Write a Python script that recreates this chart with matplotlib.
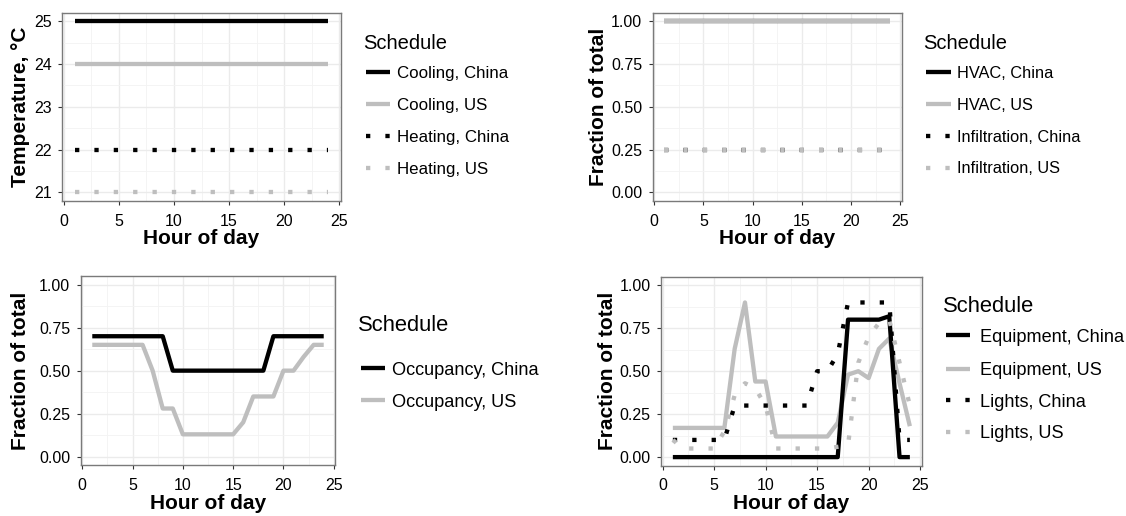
import matplotlib
matplotlib.use('Agg')
import matplotlib.pyplot as plt
from matplotlib.lines import Line2D

plt.rcParams['font.family'] = ['Liberation Sans', 'DejaVu Sans']

hours = list(range(1, 25))

# thermostat setpoints (deg C)
cooling_china = [25, 25, 25, 25, 25, 25, 25, 25, 25, 25, 25, 25,
                 25, 25, 25, 25, 25, 25, 25, 25, 25, 25, 25, 25]
cooling_us = [24, 24, 24, 24, 24, 24, 24, 24, 24, 24, 24, 24,
              24, 24, 24, 24, 24, 24, 24, 24, 24, 24, 24, 24]
heating_china = [22, 22, 22, 22, 22, 22, 22, 22, 22, 22, 22, 22,
                 22, 22, 22, 22, 22, 22, 22, 22, 22, 22, 22, 22]
heating_us = [21, 21, 21, 21, 21, 21, 21, 21, 21, 21, 21, 21,
              21, 21, 21, 21, 21, 21, 21, 21, 21, 21, 21, 21]

# hvac availability and infiltration
hvac_china = [1, 1, 1, 1, 1, 1, 1, 1, 1, 1, 1, 1,
              1, 1, 1, 1, 1, 1, 1, 1, 1, 1, 1, 1]
hvac_us = [1, 1, 1, 1, 1, 1, 1, 1, 1, 1, 1, 1,
           1, 1, 1, 1, 1, 1, 1, 1, 1, 1, 1, 1]
infil_china = [0.25, 0.25, 0.25, 0.25, 0.25, 0.25, 0.25, 0.25, 0.25, 0.25, 0.25, 0.25,
               0.25, 0.25, 0.25, 0.25, 0.25, 0.25, 0.25, 0.25, 0.25, 0.25, 0.25, 0.25]
infil_us = [0.25, 0.25, 0.25, 0.25, 0.25, 0.25, 0.25, 0.25, 0.25, 0.25, 0.25, 0.25,
            0.25, 0.25, 0.25, 0.25, 0.25, 0.25, 0.25, 0.25, 0.25, 0.25, 0.25, 0.25]

# occupancy
occ_china = [0.7, 0.7, 0.7, 0.7, 0.7, 0.7, 0.7, 0.7, 0.5, 0.5, 0.5, 0.5,
             0.5, 0.5, 0.5, 0.5, 0.5, 0.5, 0.7, 0.7, 0.7, 0.7, 0.7, 0.7]
occ_us = [0.65, 0.65, 0.65, 0.65, 0.65, 0.65, 0.5, 0.28, 0.28, 0.13, 0.13, 0.13,
          0.13, 0.13, 0.13, 0.2, 0.35, 0.35, 0.35, 0.5, 0.5, 0.58, 0.65, 0.65]

# plug loads and lighting
equip_china = [0, 0, 0, 0, 0, 0, 0, 0, 0, 0, 0, 0,
               0, 0, 0, 0, 0, 0.8, 0.8, 0.8, 0.8, 0.82, 0, 0]
equip_us = [0.17, 0.17, 0.17, 0.17, 0.17, 0.17, 0.63, 0.9, 0.44, 0.44, 0.12, 0.12,
            0.12, 0.12, 0.12, 0.12, 0.2, 0.48, 0.5, 0.46, 0.63, 0.69, 0.43, 0.18]
lights_china = [0.1, 0.1, 0.1, 0.1, 0.1, 0.1, 0.3, 0.3, 0.3, 0.3, 0.3, 0.3,
                0.3, 0.3, 0.5, 0.5, 0.6, 0.9, 0.9, 0.9, 0.9, 0.9, 0.1, 0.1]
lights_us = [0.1, 0.05, 0.05, 0.05, 0.05, 0.15, 0.36, 0.43, 0.4, 0.3, 0.05, 0.05,
             0.05, 0.05, 0.05, 0.05, 0.06, 0.07, 0.55, 0.7, 0.78, 0.8, 0.55, 0.3]

W, H = 1126, 516
LW = 3.1
GREY = '#bebebe'
DOT = (0, (1, 3.5))

fig = plt.figure(figsize=(W / 100, H / 100), dpi=100)


def px_axes(box):
    left, top, right, bottom = box
    return fig.add_axes([left / W, 1 - bottom / H, (right - left) / W, (bottom - top) / H])


def style(ax, box, ylim, yticks, yfmt, ylabel, ylabel_x, xlabel_y):
    left, top, right, bottom = box
    ax.set_xlim(-0.15, 25.15)
    ax.set_ylim(*ylim)
    ax.set_xticks([0, 5, 10, 15, 20, 25])
    ax.set_xticks([2.5, 7.5, 12.5, 17.5, 22.5], minor=True)
    ax.set_yticks(yticks)
    ax.set_yticklabels([yfmt.format(v) for v in yticks])
    step = yticks[1] - yticks[0]
    ax.set_yticks([v + step / 2 for v in yticks[:-1]], minor=True)
    ax.grid(which='major', color='#ebebeb', linewidth=1.0)
    ax.grid(which='minor', color='#f3f3f3', linewidth=0.6)
    ax.set_axisbelow(True)
    for s in ax.spines.values():
        s.set_color('#7a7a7a')
        s.set_linewidth(1.0)
    ax.tick_params(which='major', length=3, width=0.8, color='#333333',
                   labelsize=11.5, labelcolor='black')
    ax.tick_params(axis='x', pad=6.0)
    ax.tick_params(axis='y', pad=4.5)
    ax.tick_params(which='minor', length=0)
    # axis titles placed in pixel space, centred on the panel
    ax.set_xlabel('Hour of day', fontsize=15, fontweight='bold')
    ax.xaxis.set_label_coords((left + right) / 2 / W, 1 - xlabel_y / H,
                              transform=fig.transFigure)
    ax.xaxis.label.set_va('baseline')
    ax.set_ylabel(ylabel, fontsize=15, fontweight='bold')
    ax.yaxis.set_label_coords(ylabel_x / W, 1 - (top + bottom) / 2 / H,
                              transform=fig.transFigure)
    ax.yaxis.label.set_rotation_mode('anchor')
    ax.yaxis.label.set_va('baseline')
    ax.yaxis.label.set_ha('center')


def legend(x, title_y, rows, entries, size=12, title_size=14.5, text_dx=34):
    fig.text(x / W, 1 - (title_y + 0.5 * title_size) / H, 'Schedule',
             fontsize=title_size, va='baseline')
    for (label, color, ls), y in zip(entries, rows):
        fig.add_artist(Line2D([(x + 3) / W, (x + 27.3) / W], [1 - y / H] * 2,
                              color=color, linewidth=LW, linestyle=ls,
                              solid_capstyle='butt', dash_capstyle='butt'))
        fig.text((x + text_dx) / W, 1 - (y + 0.5 * size) / H, label,
                 fontsize=size, va='baseline')


def draw(ax, y, color, ls):
    ax.plot(hours, y, color=color, linewidth=LW, linestyle=ls,
            solid_capstyle='butt', dash_capstyle='butt')


frac_ticks = [0, 0.25, 0.5, 0.75, 1.0]

# temperature setpoints
box1 = (62, 12.7, 341, 201)
ax1 = px_axes(box1)
draw(ax1, cooling_china, 'black', '-')
draw(ax1, cooling_us, GREY, '-')
draw(ax1, heating_china, 'black', DOT)
draw(ax1, heating_us, GREY, DOT)
style(ax1, box1, (20.8, 25.2), [21, 22, 23, 24, 25], '{:.0f}', 'Temperature, °C', 26.5, 244)
legend(362.7, 42, [72, 104, 136, 167.5],
       [('Cooling, China', 'black', '-'), ('Cooling, US', GREY, '-'),
        ('Heating, China', 'black', DOT), ('Heating, US', GREY, DOT)],
       size=12.2)

# hvac / infiltration
box2 = (652.7, 12.7, 901.7, 201)
ax2 = px_axes(box2)
draw(ax2, hvac_china, 'black', '-')
draw(ax2, hvac_us, GREY, '-')
draw(ax2, infil_china, 'black', DOT)
draw(ax2, infil_us, GREY, DOT)
style(ax2, box2, (-0.05, 1.05), frac_ticks, '{:.2f}', 'Fraction of total', 604.5, 244)
legend(923.3, 42, [72, 104, 136, 167.5],
       [('HVAC, China', 'black', '-'), ('HVAC, US', GREY, '-'),
        ('Infiltration, China', 'black', DOT), ('Infiltration, US', GREY, DOT)],
       size=11.8, text_dx=33.4)

# occupancy
box3 = (80.7, 276, 335.3, 465.3)
ax3 = px_axes(box3)
draw(ax3, occ_china, 'black', '-')
draw(ax3, occ_us, GREY, '-')
style(ax3, box3, (-0.05, 1.05), frac_ticks, '{:.2f}', 'Fraction of total', 26.5, 509)
legend(358, 323, [368, 400],
       [('Occupancy, China', 'black', '-'), ('Occupancy, US', GREY, '-')],
       size=13.1, title_size=15.8, text_dx=34)

# equipment / lights
box4 = (661, 276.7, 921.7, 465.7)
ax4 = px_axes(box4)
draw(ax4, equip_us, GREY, '-')
draw(ax4, equip_china, 'black', '-')
draw(ax4, lights_china, 'black', DOT)
draw(ax4, lights_us, GREY, DOT)
style(ax4, box4, (-0.05, 1.05), frac_ticks, '{:.2f}', 'Fraction of total', 613, 509)
legend(943, 304, [335, 368.5, 400, 431.5],
       [('Equipment, China', 'black', '-'), ('Equipment, US', GREY, '-'),
        ('Lights, China', 'black', DOT), ('Lights, US', GREY, DOT)],
       size=13.1, title_size=15.8, text_dx=37)

fig.savefig('out.png', dpi=100)
